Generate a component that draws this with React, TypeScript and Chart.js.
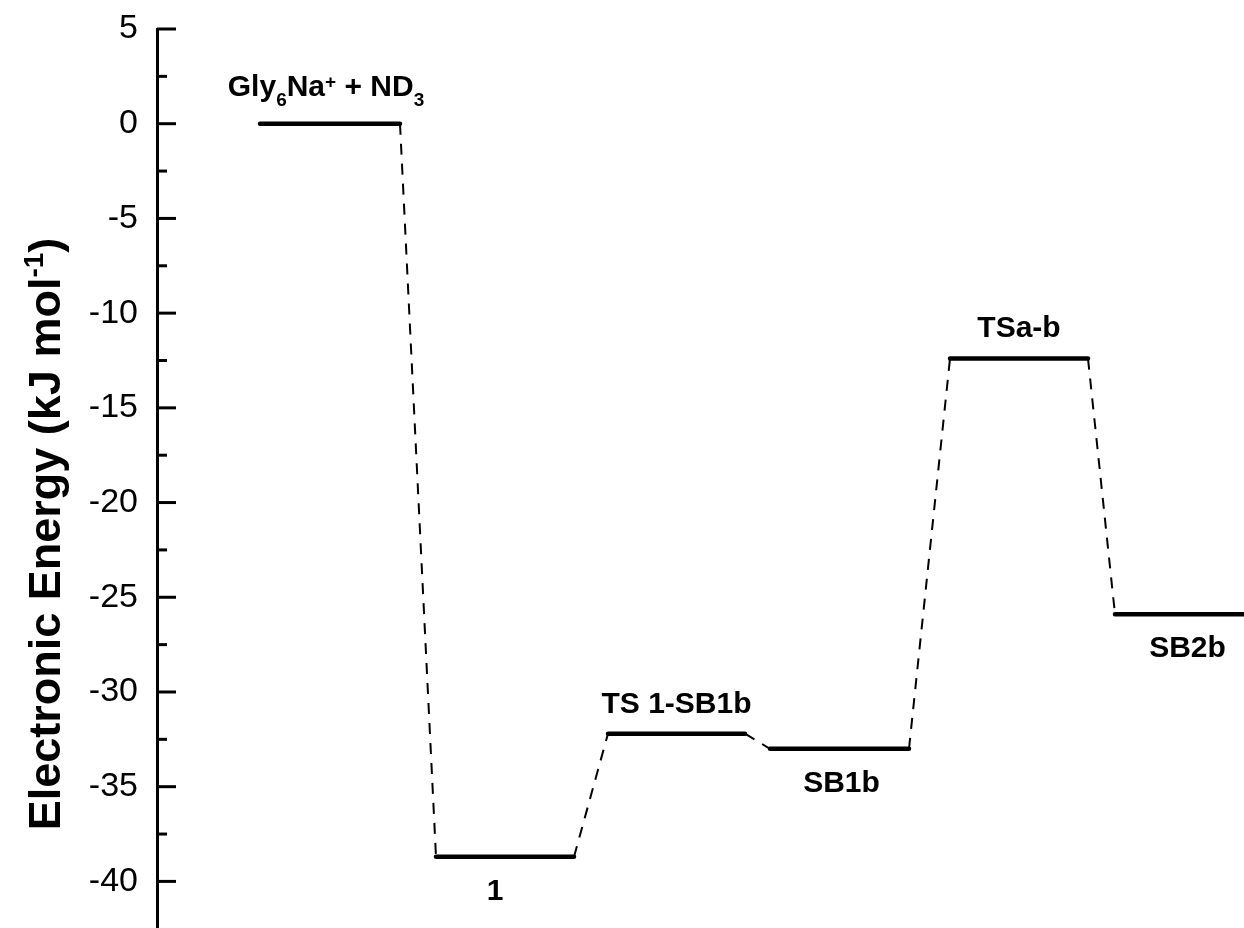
import React, { useEffect, useRef } from "react";
import { Chart, registerables } from "chart.js";

Chart.register(...registerables);

// ---- data ----
const levelNames = ["Gly_{6}Na^{+} + ND_{3}", "1", "TS 1-SB1b", "SB1b", "TSa-b", "SB2b"];
const levelEnergies = [0, -38.7, -32.2, -33.0, -12.4, -25.9];
const levelStart = [10.3, 27.9, 45.1, 61.3, 79.3, 95.8];
const levelEnd = [24.3, 41.7, 58.8, 75.2, 93.1, 110.3];
const labelSide = ["above", "below", "above", "below", "above", "below"];
const yMinorTicks = [2.5, -2.5, -7.5, -12.5, -17.5, -22.5, -27.5, -32.5, -37.5];
const yAxisTitle = "Electronic Energy (kJ mol^{-1})";
const yMin = -42.46;
const yMax = 5;
const xMin = 0;
const xMax = 108.7;

type Seg = { t: string; k: "n" | "sub" | "sup" };
function parseRich(s: string): Seg[] {
  const out: Seg[] = [];
  const re = /([_^])\{([^}]*)\}/g;
  let last = 0;
  let m: RegExpExecArray | null;
  while ((m = re.exec(s))) {
    if (m.index > last) out.push({ t: s.slice(last, m.index), k: "n" });
    out.push({ t: m[2], k: m[1] === "_" ? "sub" : "sup" });
    last = re.lastIndex;
  }
  if (last < s.length) out.push({ t: s.slice(last), k: "n" });
  return out;
}

function drawRich(
  ctx: CanvasRenderingContext2D,
  s: string,
  cx: number,
  by: number,
  size: number,
  supRaise: number,
  subDrop: number
) {
  const segs = parseRich(s);
  const small = Math.round(size * 0.62);
  const fontFor = (k: string) =>
    `bold ${k === "n" ? size : small}px "Liberation Sans", Arial, sans-serif`;
  let total = 0;
  const widths = segs.map((sg) => {
    ctx.font = fontFor(sg.k);
    const w = ctx.measureText(sg.t).width;
    total += w;
    return w;
  });
  let x = cx - total / 2;
  ctx.textAlign = "left";
  ctx.textBaseline = "alphabetic";
  segs.forEach((sg, i) => {
    ctx.font = fontFor(sg.k);
    let y = by;
    if (sg.k === "sub") y += subDrop;
    if (sg.k === "sup") y -= supRaise;
    ctx.fillText(sg.t, x, y);
    x += widths[i];
  });
}

const annotationPlugin = {
  id: "energyAnnotations",
  afterDraw(chart: any) {
    const ctx: CanvasRenderingContext2D = chart.ctx;
    const xs = chart.scales.x;
    const ys = chart.scales.y;
    const area = chart.chartArea;
    ctx.save();
    ctx.fillStyle = "#000";
    ctx.strokeStyle = "#000";

    // inward ticks
    ctx.lineWidth = 3;
    ctx.lineCap = "butt";
    ys.ticks.forEach((t: any) => {
      const py = ys.getPixelForValue(t.value);
      ctx.beginPath();
      ctx.moveTo(area.left, py);
      ctx.lineTo(area.left + 19, py);
      ctx.stroke();
    });
    yMinorTicks.forEach((v) => {
      if (v < yMin || v > yMax) return;
      const py = ys.getPixelForValue(v);
      ctx.beginPath();
      ctx.moveTo(area.left, py);
      ctx.lineTo(area.left + 10, py);
      ctx.stroke();
    });

    // level labels
    const aboveGap = [28, 0, 21, 0, 22, 0];
    const dxs = [-4, -10, 0, 2, 0, 0];
    levelNames.forEach((name, i) => {
      const cx = xs.getPixelForValue((levelStart[i] + levelEnd[i]) / 2) + dxs[i];
      const py = ys.getPixelForValue(levelEnergies[i]);
      const by = labelSide[i] === "above" ? py - aboveGap[i] : py + 43;
      drawRich(ctx, name, cx, by, 30, 8, 10);
    });

    // y axis title (rotated, with superscript)
    ctx.translate(60, 534);
    ctx.rotate(-Math.PI / 2);
    drawRich(ctx, yAxisTitle, 0, 0, 45, 17, 10);
    ctx.restore();
  },
};

export default function App() {
  const ref = useRef<HTMLCanvasElement | null>(null);
  useEffect(() => {
    if (!ref.current) return;
    const levelData: any[] = [];
    const connData: any[] = [];
    levelEnergies.forEach((e, i) => {
      levelData.push({ x: levelStart[i], y: e }, { x: levelEnd[i], y: e }, { x: levelEnd[i], y: null });
      if (i < levelEnergies.length - 1) {
        connData.push(
          { x: levelEnd[i], y: e },
          { x: levelStart[i + 1], y: levelEnergies[i + 1] },
          { x: levelStart[i + 1], y: null }
        );
      }
    });
    const chart = new Chart(ref.current, {
      type: "line",
      data: {
        datasets: [
          {
            data: connData,
            borderColor: "#000",
            borderWidth: 2,
            borderDash: [11, 9],
            pointRadius: 0,
            spanGaps: false,
            tension: 0,
          },
          {
            data: levelData,
            borderColor: "#000",
            borderWidth: 4.5,
            borderCapStyle: "round",
            pointRadius: 0,
            spanGaps: false,
            tension: 0,
          },
        ],
      },
      options: {
        animation: false,
        responsive: true,
        maintainAspectRatio: false,
        layout: { padding: { top: 29, left: 0, right: 0, bottom: 0 } },
        plugins: { legend: { display: false }, tooltip: { enabled: false } },
        scales: {
          x: { type: "linear", min: xMin, max: xMax, display: false },
          y: {
            type: "linear",
            min: yMin,
            max: yMax,
            ticks: {
              stepSize: 5,
              includeBounds: false,
              color: "#000",
              padding: 19,
              font: { family: '"Liberation Sans", Arial, sans-serif', size: 34 },
            },
            grid: { display: true, drawOnChartArea: false, drawTicks: false },
            border: { display: true, color: "#000", width: 3 },
            afterFit: (scale: any) => {
              scale.width = 157;
              scale.paddingTop = 0;
              scale.paddingBottom = 0;
            },
          },
        },
      },
      plugins: [annotationPlugin],
    } as any);
    return () => chart.destroy();
  }, []);
  return (
    <div style={{ position: "absolute", left: 0, top: 0, width: 1244, height: 928, background: "#fff" }}>
      <canvas ref={ref} />
    </div>
  );
}
